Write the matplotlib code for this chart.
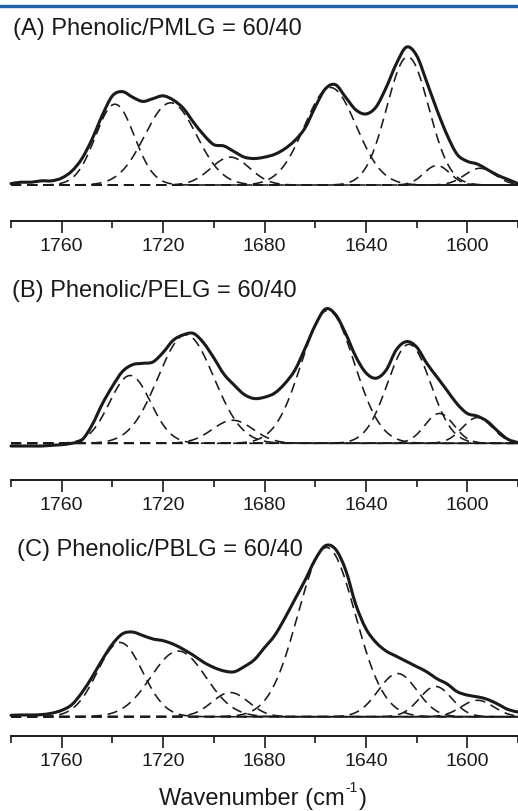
import numpy as np
import matplotlib
matplotlib.use("Agg")
import matplotlib.pyplot as plt
from matplotlib.patches import Rectangle, PathPatch
from matplotlib.path import Path
from matplotlib.ticker import MultipleLocator

plt.rcParams["font.family"] = ["Liberation Sans", "DejaVu Sans"]

# measured spectra, 1780 -> 1580 cm-1 in 4 cm-1 steps (normalised absorbance)
wavenumber = np.arange(1780, 1579, -4)

pmlg_spectrum = [
    0.01, 0.02, 0.02, 0.03, 0.03, 0.05, 0.10, 0.19, 0.33, 0.50,
    0.64, 0.67, 0.63, 0.60, 0.62, 0.64, 0.61, 0.55, 0.45, 0.36,
    0.29, 0.28, 0.24, 0.20, 0.19, 0.20, 0.22, 0.26, 0.32, 0.41,
    0.56, 0.69, 0.72, 0.63, 0.54, 0.51, 0.56, 0.70, 0.87, 0.99,
    0.93, 0.74, 0.54, 0.36, 0.22, 0.17, 0.15, 0.11, 0.07, 0.04,
    0.01,
]
pelg_spectrum = [
    -0.02, -0.02, -0.02, -0.02, -0.015, -0.01, 0.0, 0.025, 0.135, 0.29,
    0.42, 0.53, 0.58, 0.59, 0.60, 0.67, 0.76, 0.80, 0.81, 0.74,
    0.63, 0.51, 0.43, 0.36, 0.33, 0.34, 0.37, 0.44, 0.54, 0.70,
    0.87, 0.99, 0.95, 0.81, 0.64, 0.52, 0.48, 0.54, 0.69, 0.75,
    0.71, 0.59, 0.49, 0.39, 0.29, 0.22, 0.20, 0.16, 0.09, 0.03,
    0.005,
]
pblg_spectrum = [
    0.008, 0.01, 0.01, 0.012, 0.02, 0.037, 0.07, 0.14, 0.23, 0.33,
    0.42, 0.48, 0.49, 0.47, 0.45, 0.44, 0.42, 0.39, 0.355, 0.315,
    0.285, 0.265, 0.26, 0.29, 0.33, 0.40, 0.47, 0.57, 0.68, 0.79,
    0.91, 0.99, 0.97, 0.85, 0.65, 0.51, 0.43, 0.38, 0.35, 0.32,
    0.29, 0.26, 0.22, 0.19, 0.145, 0.125, 0.115, 0.10, 0.073, 0.042,
    0.027,
]

# fitted Gaussian bands: centre (cm-1), height, FWHM (cm-1)
pmlg_centers = [1739, 1717, 1693.5, 1654, 1623.5, 1612, 1595]
pmlg_heights = [0.58, 0.59, 0.20, 0.70, 0.92, 0.14, 0.12]
pmlg_fwhm = [18, 24, 18, 24, 19.5, 12, 14]

pelg_centers = [1733, 1711, 1692.5, 1655, 1623, 1611, 1596]
pelg_heights = [0.50, 0.80, 0.17, 0.98, 0.73, 0.22, 0.19]
pelg_fwhm = [19, 26, 19, 24.5, 20, 13.5, 14]

pblg_centers = [1737, 1714, 1693.5, 1655.5, 1627.5, 1612.5, 1596]
pblg_heights = [0.43, 0.38, 0.14, 0.98, 0.25, 0.175, 0.095]
pblg_fwhm = [21, 25.5, 17, 26.6, 18, 15, 15]

titles = [
    "(A) Phenolic/PMLG = 60/40",
    "(B) Phenolic/PELG = 60/40",
    "(C) Phenolic/PBLG = 60/40",
]

INK = "#1a1a1a"
W, H = 518, 811
fig = plt.figure(figsize=(W / 100, H / 100), dpi=100)

# journal header rule
fig.patches.append(
    Rectangle((0, 1 - 7 / H), 1, 2.5 / H, transform=fig.transFigure,
              color="#2360a8", zorder=5)
)


def gaussian(x, c, h, fwhm):
    s = fwhm / 2.3548
    return h * np.exp(-((x - c) ** 2) / (2 * s * s))


def smooth_path(x, y):
    # Catmull-Rom through the samples, written as cubic Bezier segments
    pts = np.column_stack([x, y]).astype(float)
    ext = np.vstack([pts[0], pts, pts[-1]])
    verts = [pts[0]]
    codes = [Path.MOVETO]
    for i in range(len(pts) - 1):
        p0, p1, p2, p3 = ext[i], ext[i + 1], ext[i + 2], ext[i + 3]
        verts += [p1 + (p2 - p0) / 6, p2 - (p3 - p1) / 6, p2]
        codes += [Path.CURVE4] * 3
    return Path(verts, codes)


def add_panel(y_spine, y_base, scale, y_top):
    # y_* are pixel rows from the top of the figure
    ax = fig.add_axes([11 / W, 1 - y_spine / H, 507 / W, (y_spine - y_top) / H])
    ax.set_ylim(-(y_spine - y_base) / scale, (y_base - y_top) / scale)
    ax.set_xlim(1780, 1580)
    for side in ["left", "right", "top"]:
        ax.spines[side].set_visible(False)
    ax.spines["bottom"].set_linewidth(1.4)
    ax.spines["bottom"].set_color(INK)
    ax.set_yticks([])
    ax.xaxis.set_major_locator(MultipleLocator(40))
    ax.xaxis.set_minor_locator(MultipleLocator(20))
    ax.tick_params(axis="x", which="major", length=8.5, width=1.2,
                   pad=4, labelsize=14, colors=INK)
    ax.tick_params(axis="x", which="minor", length=5, width=1.2, colors=INK)
    ax.patch.set_visible(False)
    return ax


def draw(ax, spectrum, centers, heights, fwhm):
    xf = np.linspace(1780, 1580, 801)
    for c, h, w in zip(centers, heights, fwhm):
        ax.plot(xf, gaussian(xf, c, h, w), color=INK, lw=1.15,
                linestyle=(0, (6.3, 3.8)), clip_on=False, zorder=2)
    ax.add_patch(PathPatch(smooth_path(wavenumber, spectrum), fill=False,
                           edgecolor=INK, lw=2.2, joinstyle="round",
                           capstyle="round", clip_on=False, zorder=3))


ax_a = add_panel(221, 185, 139.3, 40)
draw(ax_a, pmlg_spectrum, pmlg_centers, pmlg_heights, pmlg_fwhm)

ax_b = add_panel(480, 443.3, 135.6, 295)
draw(ax_b, pelg_spectrum, pelg_centers, pelg_heights, pelg_fwhm)

ax_c = add_panel(736, 716.7, 172.7, 535)
draw(ax_c, pblg_spectrum, pblg_centers, pblg_heights, pblg_fwhm)

for (x, y), t in zip([(13, 35), (12, 296.7), (17, 556)], titles):
    fig.text(x / W, 1 - y / H, t, fontsize=17, va="baseline",
             ha="left", color=INK)

# axis title with a plain hyphen in the superscript
renderer = fig.canvas.get_renderer()
base_y = 1 - 805 / H
t1 = fig.text(159 / W, base_y, "Wavenumber (cm", fontsize=17,
              va="baseline", ha="left", color=INK)
x1 = t1.get_window_extent(renderer).x1 / W
t2 = fig.text(x1 + 1 / W, base_y + 13 / H, "-1", fontsize=10,
              va="baseline", ha="left", color=INK)
x2 = t2.get_window_extent(renderer).x1 / W
fig.text(x2 + 1 / W, base_y, ")", fontsize=17, va="baseline",
         ha="left", color=INK)

fig.savefig("out.png", dpi=100)
